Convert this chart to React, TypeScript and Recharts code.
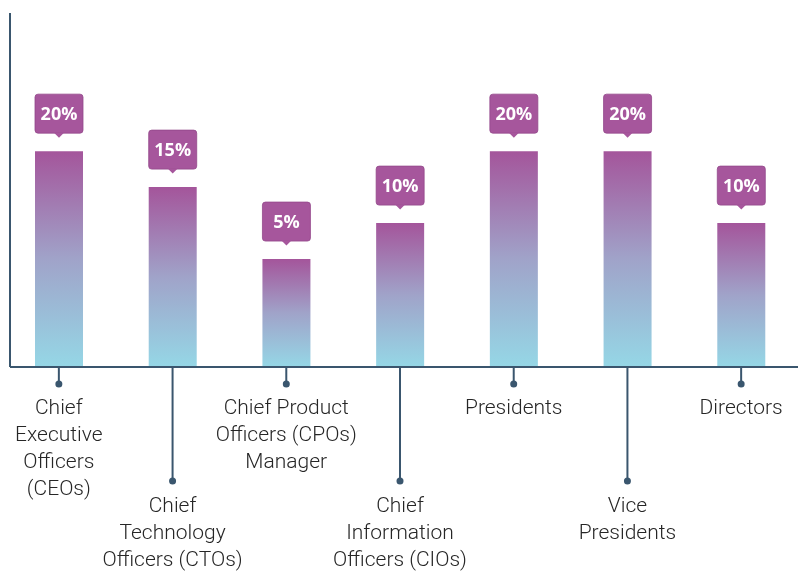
import { Bar, BarChart, LabelList, XAxis, YAxis } from "recharts";

const roles = ["CEOs", "CTOs", "CPOs", "CIOs", "Presidents", "Vice Presidents", "Directors"];

const roleLines: string[][] = [
  ["Chief", "Executive", "Officers", "(CEOs)"],
  ["Chief", "Technology", "Officers (CTOs)"],
  ["Chief Product", "Officers (CPOs)", "Manager"],
  ["Chief", "Information", "Officers (CIOs)"],
  ["Presidents"],
  ["Vice", "Presidents"],
  ["Directors"],
];

const shares = [20, 15, 5, 10, 20, 20, 10];

// bars are drawn from a floor below zero, as in the original artwork
const BAR_FLOOR = -10;
const Y_TOP = 39.2;

const data = roles.map((role, i) => ({ role, share: shares[i] }));

const AXIS = "#3a566e";
const CALLOUT = "#a6569c";

function RoleTick(props: any) {
  const { x, y, index } = props;
  const lines = roleLines[index] ?? [];
  const long = index % 2 === 1;
  const drop = long ? 114 : 17;
  const first = long ? 145 : 47;
  return (
    <g>
      <line x1={x} y1={y} x2={x} y2={y + drop} stroke={AXIS} strokeWidth={2} />
      <circle cx={x} cy={y + drop} r={3.5} fill={AXIS} />
      <text
        x={x}
        y={y + first}
        textAnchor="middle"
        fill="#262626"
        fontFamily="Roboto, 'Liberation Sans', sans-serif"
        fontWeight={300}
        fontSize={21}
      >
        {lines.map((line, i) => (
          <tspan key={i} x={x} dy={i === 0 ? 0 : 27}>
            {line}
          </tspan>
        ))}
      </text>
    </g>
  );
}

function Callout(props: any) {
  const { x, y, width, height, value } = props;
  const top = Math.min(y, y + height);
  const cx = x + width / 2;
  const boxBottom = top - 18;
  const boxTop = top - 57;
  return (
    <g>
      <rect
        x={x}
        y={boxTop}
        width={width}
        height={boxBottom - boxTop}
        rx={3}
        fill={CALLOUT}
        stroke="#93478a"
        strokeWidth={0.8}
      />
      <polygon
        points={`${cx - 5},${boxBottom - 0.5} ${cx + 5},${boxBottom - 0.5} ${cx},${boxBottom + 4.5}`}
        fill={CALLOUT}
      />
      <text
        x={cx}
        y={(boxTop + boxBottom) / 2 + 6.5}
        textAnchor="middle"
        fill="#ffffff"
        fontFamily="'Open Sans', 'DejaVu Sans', sans-serif"
        fontWeight={700}
        fontSize={18}
      >
        {`${value}%`}
      </text>
    </g>
  );
}

export default function App() {
  return (
    <div style={{ position: "fixed", left: 0, top: 0 }}>
      <BarChart
        width={798}
        height={572}
        data={data}
        margin={{ top: 13, right: 0, bottom: 0, left: 9 }}
      >
        <defs>
          <linearGradient id="barFade" x1="0" y1="0" x2="0" y2="1">
            <stop offset="0%" stopColor="#a4559b" />
            <stop offset="50%" stopColor="#a0a3c9" />
            <stop offset="100%" stopColor="#95d7e6" />
          </linearGradient>
        </defs>
        <YAxis
          domain={[BAR_FLOOR, Y_TOP]}
          width={1}
          tick={false}
          tickLine={false}
          axisLine={{ stroke: AXIS, strokeWidth: 2 }}
          allowDataOverflow
        />
        <XAxis
          dataKey="role"
          interval={0}
          height={205}
          tickSize={0}
          tickMargin={0}
          tickLine={false}
          axisLine={{ stroke: AXIS, strokeWidth: 2 }}
          padding={{ left: -8, right: 0 }}
          tick={<RoleTick />}
        />
        <Bar
          dataKey={(d: { share: number }) => [BAR_FLOOR, d.share]}
          barSize={48}
          fill="url(#barFade)"
          isAnimationActive={false}
        >
          <LabelList dataKey="share" content={<Callout />} />
        </Bar>
      </BarChart>
    </div>
  );
}
